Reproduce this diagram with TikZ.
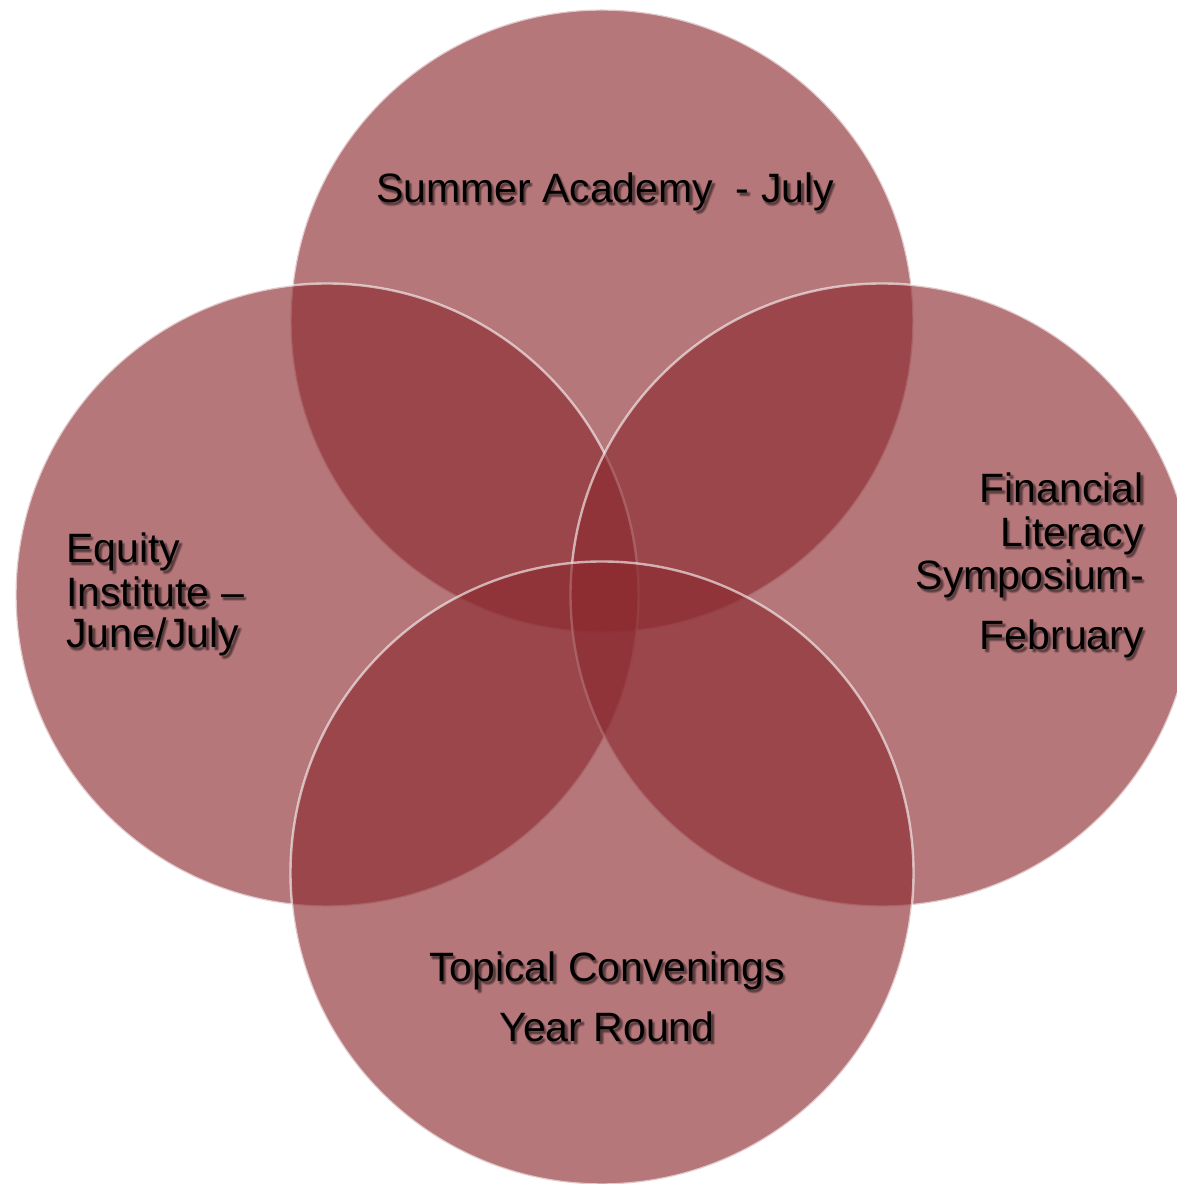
\documentclass[tikz,border=0pt]{standalone}
\usepackage{fontspec}
\setmainfont{Liberation Sans}
\tikzset{
  ring/.style={circle, minimum size=623pt, inner sep=0pt,
    fill={rgb,255:red,139;green,42;blue,47}, fill opacity=0.64,
    draw=white, draw opacity=0.6, line width=2.4pt},
  lbl/.style={inner sep=0pt, font=\fontsize{41}{44}\selectfont, text=black},
}
\newcommand\lab[4]{%
  \foreach \dx/\dy in {1.5/-2.5,2.5/-3.5,3.5/-2.5,2.5/-1.5}{%
    \node[lbl, anchor=#2, text opacity=0.16, xshift=\dx pt, yshift=\dy pt] at (#3) {#4};}%
  \node[lbl, anchor=#2] (#1) at (#3) {#4};}
\begin{document}
\begin{tikzpicture}[x=1pt,y=1pt]
\useasboundingbox (0,0) rectangle (1176,1184);
\node[ring] (top) at (602,863) {};
\node[ring] (left) at (327,589) {};
\node[ring] (right) at (882,589) {};
\node[ring] (bottom) at (602,311) {};
\lab{summer}{base}{605,981}{Summer Academy \ - July}
\lab{fin1}{base east}{1144,681}{Financial}
\lab{fin2}{base east}{1144,637}{Literacy}
\lab{fin3}{base east}{1144,594}{Symposium-}
\lab{fin4}{base east}{1144,534}{February}
\lab{eq1}{base west}{66,621}{Equity}
\lab{eq2}{base west}{66,577}{Institute \textendash}
\lab{eq3}{base west}{66,536}{June/July}
\lab{top1}{base}{607,202}{Topical Convenings}
\lab{top2}{base}{607,142}{Year Round}
\end{tikzpicture}
\end{document}
